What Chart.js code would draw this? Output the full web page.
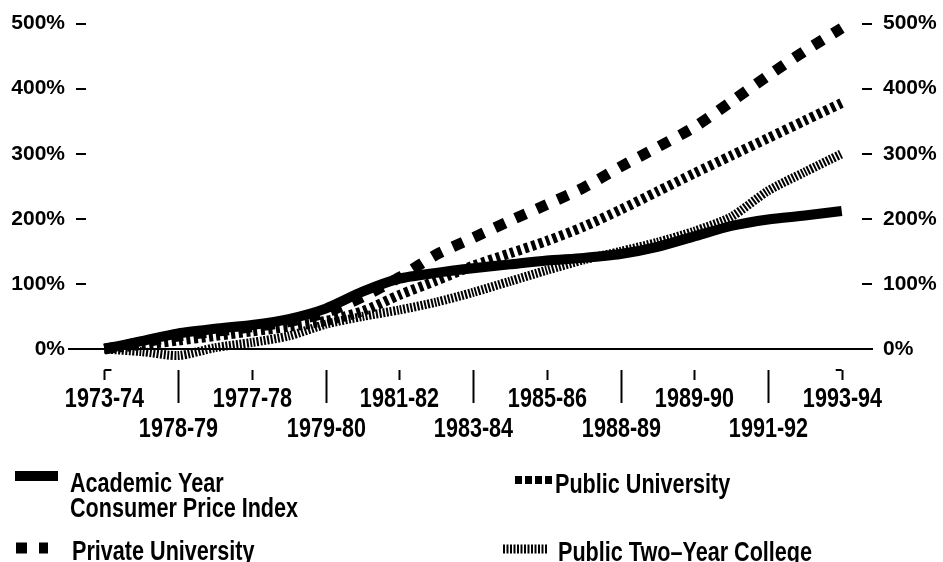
<!DOCTYPE html>
<html>
<head>
<meta charset="utf-8">
<script src="https://cdn.jsdelivr.net/npm/chart.js@4.4.1/dist/chart.umd.min.js"></script>
<style>
    html, body { margin: 0; padding: 0; background: #fff; }
    #wrap { width: 943px; height: 562px; }
</style>
</head>
<body>
<div id="wrap"><canvas id="chart" width="943" height="562"></canvas></div>
<script>
/* =========================================================
   DATA (percent change since 1973-74)
========================================================= */
const years = ["1973-74", "1974-75", "1975-76", "1976-77", "1977-78", "1978-79", "1979-80",
    "1980-81", "1981-82", "1982-83", "1983-84", "1984-85", "1985-86", "1986-87", "1987-88",
    "1988-89", "1989-90", "1990-91", "1991-92", "1992-93", "1993-94"];

const cpi = [0, 12, 24, 31, 37, 46, 62, 88, 108, 117, 124, 130, 136, 140, 146, 157, 173, 189, 199, 205, 212];
const privateUniv = [0, 10, 20, 27, 34, 42, 56, 80, 110, 145, 171, 197, 222, 248, 280, 310, 341, 380, 420, 458, 493];
const publicUniv = [0, 6, 13, 20, 27, 34, 43, 58, 83, 105, 128, 147, 166, 188, 214, 242, 270, 297, 324, 351, 378];
const twoYear = [0, -4, -10, 2, 10, 20, 38, 50, 60, 72, 87, 104, 121, 137, 150, 164, 181, 203, 243, 272, 300];

// tick labels as printed (every second year, alternating rows)
const tickYears = [0, 2, 4, 6, 8, 10, 12, 14, 16, 18, 20];
const tickLabels = ["1973-74", "1978-79", "1977-78", "1979-80", "1981-82", "1983-84",
    "1985-86", "1988-89", "1989-90", "1991-92", "1993-94"];
const yTicks = [0, 100, 200, 300, 400, 500];

const seriesNames = [["Academic Year", "Consumer Price Index"], ["Private University"],
    ["Public University"], ["Public Two\u2013Year College"]];

const FONT = '"Liberation Sans", Arial, sans-serif';
const SQUEEZE = 0.8;   // the print uses a condensed face

const toPoints = arr => arr.map((v, i) => ({ x: i, y: v }));

function squeezedText(ctx, s, x, y, align) {
    ctx.save();
    ctx.translate(x, y);
    ctx.scale(SQUEEZE, 1);
    ctx.textAlign = align;
    ctx.fillText(s, 0, 0);
    ctx.restore();
}


/* =========================================================
   PLUGIN: baseline, year ticks + labels, legend
========================================================= */
const extras = {
    id: "extras",
    beforeDatasetsDraw(chart) {
        const { ctx, chartArea, scales } = chart;
        const y0 = scales.y.getPixelForValue(0);
        ctx.save();
        ctx.strokeStyle = "#000";
        ctx.lineWidth = 2;
        ctx.beginPath();
        ctx.moveTo(chartArea.left - 18, y0);
        ctx.lineTo(chartArea.right + 11, y0);
        ctx.stroke();

        // year ticks, short on the upper row, long on the lower row
        const top = chartArea.bottom + 21;
        ctx.fillStyle = "#000";
        ctx.font = "bold 27px " + FONT;
        ctx.textBaseline = "alphabetic";
        tickYears.forEach((v, i) => {
            const px = Math.round(scales.x.getPixelForValue(v)) + 0.5;
            ctx.beginPath();
            ctx.moveTo(px, top);
            ctx.lineTo(px, top + (i % 2 ? 33 : 10));
            ctx.stroke();
            squeezedText(ctx, tickLabels[i], px, chartArea.bottom + (i % 2 ? 88 : 58), "center");
        });
        // bracket ends
        const first = scales.x.getPixelForValue(tickYears[0]);
        const last = scales.x.getPixelForValue(tickYears[tickYears.length - 1]);
        ctx.beginPath();
        ctx.moveTo(first, top); ctx.lineTo(first + 7, top);
        ctx.moveTo(last, top); ctx.lineTo(last - 6, top);
        ctx.stroke();
        ctx.restore();
    },
    afterDraw(chart) {
        const { ctx } = chart;
        const items = [
            { ds: 0, x1: 15, x2: 58, y: 476, tx: 70, ty: 492 },
            { ds: 1, x1: 16, x2: 48, y: 548, tx: 72, ty: 560 },
            { ds: 2, x1: 515, x2: 553, y: 480, tx: 555, ty: 493 },
            { ds: 3, x1: 503, x2: 547, y: 549, tx: 558, ty: 561 }
        ];
        ctx.save();
        items.forEach(it => {
            const ds = chart.data.datasets[it.ds];
            ctx.strokeStyle = "#000";
            ctx.lineCap = "butt";
            ctx.lineWidth = it.ds === 2 ? 8 : ds.borderWidth;
            ctx.setLineDash(it.ds === 2 ? [7, 3] : (ds.borderDash || []));
            ctx.beginPath();
            ctx.moveTo(it.x1, it.y);
            ctx.lineTo(it.x2, it.y);
            ctx.stroke();

            ctx.setLineDash([]);
            ctx.fillStyle = "#000";
            ctx.font = "bold 27px " + FONT;
            ctx.textBaseline = "alphabetic";
            seriesNames[it.ds].forEach((line, k) => {
                squeezedText(ctx, line, it.tx, it.ty + k * 25, "left");
            });
        });
        ctx.restore();
    }
};


/* =========================================================
   CHART
========================================================= */
const yAxis = (pos, w) => ({
    position: pos,
    min: 0,
    max: 500,
    afterBuildTicks: s => { s.ticks = yTicks.map(v => ({ value: v })); },
    afterFit: s => { s.width = w; },
    grid: { drawOnChartArea: false, tickLength: 10, tickColor: "#000", lineWidth: 2 },
    border: { display: false },
    ticks: {
        padding: 11,
        color: "#000",
        font: { family: FONT, weight: "bold", size: 21 },
        callback: v => v + "%"
    }
});

new Chart(document.getElementById("chart"), {
    type: "line",
    data: {
        datasets: [
            { label: "Academic Year Consumer Price Index", data: toPoints(cpi),
              borderColor: "#000", borderWidth: 10, clip: false },
            { label: "Private University", data: toPoints(privateUniv),
              borderColor: "#000", borderWidth: 11, borderDash: [11, 12], clip: false },
            { label: "Public University", data: toPoints(publicUniv),
              borderColor: "#000", borderWidth: 10, borderDash: [4, 3.5], clip: false },
            { label: "Public Two-Year College", data: toPoints(twoYear),
              borderColor: "#000", borderWidth: 9, borderDash: [2, 1.5], clip: false }
        ]
    },
    options: {
        responsive: false,
        animation: false,
        devicePixelRatio: 1,
        layout: { padding: { top: 19, left: 0, right: 0, bottom: 0 } },
        elements: {
            point: { radius: 0 },
            line: { tension: 0.25, borderCapStyle: "butt", borderJoinStyle: "round" }
        },
        plugins: { legend: { display: false }, tooltip: { enabled: false } },
        scales: {
            x: {
                type: "linear",
                min: -0.5,
                max: 20.55,
                afterBuildTicks: s => { s.ticks = tickYears.map(v => ({ value: v })); },
                afterFit: s => { s.height = 213; },
                grid: { display: false },
                border: { display: false },
                ticks: { display: false }
            },
            y: yAxis("left", 86),
            y2: yAxis("right", 81)
        }
    },
    plugins: [extras]
});
</script>
</body>
</html>
